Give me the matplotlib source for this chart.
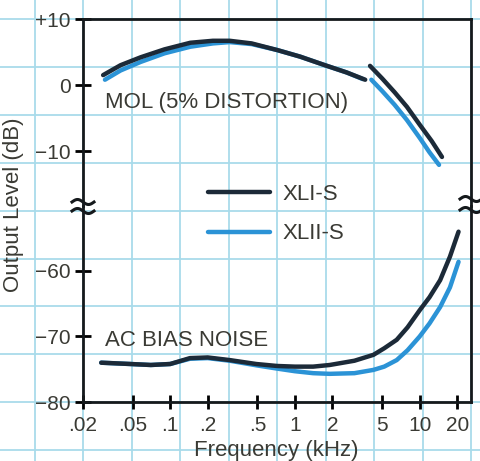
import matplotlib
matplotlib.use('Agg')
import matplotlib.pyplot as plt
from matplotlib.lines import Line2D
from matplotlib.ticker import NullLocator
import numpy as np

plt.rcParams['font.family'] = ['Liberation Sans', 'DejaVu Sans']

## DATA
freq_ticks = [0.02, 0.05, 0.1, 0.2, 0.5, 1, 2, 5, 10, 20]
freq_labels = ['.02', '.05', '.1', '.2', '.5', '1', '2', '5', '10', '20']
upper_ticks = [10, 0, -10]
upper_labels = ['+10', '0', '\u221210']
lower_ticks = [-60, -70, -80]
lower_labels = ['\u221260', '\u221270', '\u221280']

# MOL (5% distortion), low/mid band
mol_lo_f_xl1 = [0.029, 0.04, 0.058, 0.09, 0.145, 0.22, 0.3, 0.45, 0.72, 1.1, 1.74, 2.6, 3.66]
mol_lo_xl1 = [1.5, 3.0, 4.2, 5.4, 6.4, 6.7, 6.7, 6.3, 5.3, 4.3, 3.0, 1.9, 0.8]
mol_lo_f_xl2 = [0.030, 0.04, 0.058, 0.09, 0.145, 0.22, 0.3, 0.45, 0.72, 1.1, 1.74, 2.6, 3.5]
mol_lo_xl2 = [0.8, 2.2, 3.5, 4.8, 5.8, 6.3, 6.5, 6.2, 5.3, 4.3, 3.0, 1.9, 0.9]

# MOL, high band
mol_hi_f_xl1 = [4.0, 5.0, 6.3, 7.9, 10, 12.5, 15.1]
mol_hi_xl1 = [2.9, 1.0, -1.1, -3.3, -6.0, -8.5, -10.9]
mol_hi_f_xl2 = [4.1, 5.0, 6.3, 7.9, 10, 12, 14.3]
mol_hi_xl2 = [0.8, -0.9, -3.0, -5.3, -8.0, -10.2, -12.1]

# AC bias noise
noise_f = [0.028, 0.048, 0.07, 0.1, 0.144, 0.2, 0.3, 0.49, 0.72, 1.0, 1.4, 1.9, 3, 4.26,
           5.2, 6.55, 8, 10, 12, 14.6, 17.5, 20.5]
noise_xl1 = [-74.0, -74.2, -74.35, -74.2, -73.3, -73.2, -73.6, -74.2, -74.5, -74.6, -74.6,
             -74.35, -73.7, -72.8, -71.8, -70.5, -68.6, -66.0, -64.0, -61.4, -57.8, -54.0]
noise_xl2 = [-74.0, -74.2, -74.35, -74.2, -73.4, -73.3, -73.7, -74.4, -74.9, -75.3, -75.6,
             -75.7, -75.6, -75.1, -74.6, -73.6, -72.1, -70.0, -68.0, -65.5, -62.5, -58.6]

black = '#1c2a38'
blue = '#2b93d6'
paper = '#a9dbea'
ink = '#3a3a34'

fig = plt.figure(figsize=(4.8, 4.61), dpi=100)

# graph paper background (pixel coords)
bg = fig.add_axes([0, 0, 1, 1], zorder=-1)
bg.set_xlim(0, 480)
bg.set_ylim(461, 0)
bg.axis('off')
for gx in 83 + 48.5 * np.arange(-1, 9):
    bg.axvline(gx, color=paper, lw=1.3)
for gy in 19 + 47.9 * np.arange(-1, 10):
    bg.axhline(gy, color=paper, lw=1.3)

L, W = 83 / 480, 388 / 480
ax_top = fig.add_axes([L, 1 - 206 / 461, W, 187 / 461])
ax_bot = fig.add_axes([L, 1 - 402 / 461, W, 196 / 461])

for ax in (ax_top, ax_bot):
    ax.set_facecolor('none')
    ax.set_xscale('log')
    ax.set_xlim(0.02, 25.8)
    for s in ax.spines.values():
        s.set_linewidth(2)
        s.set_color('#15191c')
    ax.tick_params(axis='y', direction='inout', length=12, width=2, pad=3,
                   labelsize=15, labelcolor=ink, right=False)

ax_top.set_ylim(-18.33, 10)
ax_bot.set_ylim(-80, -50.08)
ax_top.spines['bottom'].set_visible(False)
ax_bot.spines['top'].set_visible(False)

ax_top.xaxis.set_major_locator(NullLocator())
ax_top.xaxis.set_minor_locator(NullLocator())
ax_top.set_yticks(upper_ticks, labels=upper_labels)
ax_bot.set_yticks(lower_ticks, labels=lower_labels)
ax_bot.set_xticks(freq_ticks, labels=freq_labels)
ax_bot.xaxis.set_minor_locator(NullLocator())
ax_bot.tick_params(axis='x', direction='inout', length=10, width=2, pad=5,
                   labelsize=15, labelcolor=ink)

style = dict(lw=3.2, solid_capstyle='round', solid_joinstyle='round')
l1, = ax_top.plot(mol_lo_f_xl1, mol_lo_xl1, color=black, zorder=3, **style)
l2, = ax_top.plot(mol_lo_f_xl2, mol_lo_xl2, color=blue, zorder=2, **style)
ax_top.plot(mol_hi_f_xl1, mol_hi_xl1, color=black, zorder=3, **style)
ax_top.plot(mol_hi_f_xl2, mol_hi_xl2, color=blue, zorder=2, **style)
ax_bot.plot(noise_f, noise_xl1, color=black, zorder=3, **style)
ax_bot.plot(noise_f, noise_xl2, color=blue, zorder=2, **style)

ax_top.text(0.03, -2.6, 'MOL (5% DISTORTION)', va='center', fontsize=16, color=ink)
ax_bot.text(0.03, -70.6, 'AC BIAS NOISE', va='center', fontsize=16, color=ink)

fig.legend(handles=[l1, l2], labels=['XLI-S', 'XLII-S'], loc='center left',
           bbox_to_anchor=(208 / 480, 1 - 214 / 461), frameon=False, fontsize=16,
           handlelength=2.8, handletextpad=0.55, labelspacing=0.85,
           borderpad=0, borderaxespad=0, labelcolor=ink)

fig.text(14 / 480, 1 - 205 / 461, 'Output Level (dB)', rotation=90, ha='center',
         va='center', fontsize=16, color=ink)
fig.text(276 / 480, 1 - 450 / 461, 'Frequency (kHz)', ha='center', va='center',
         fontsize=16, color=ink)

# axis break marks
t = np.linspace(0, 2 * np.pi, 40)
for cx, ys in ((83, (202, 211)), (471, (199, 210))):
    for y0 in ys:
        fig.add_artist(Line2D(cx + np.linspace(-11, 11, 40), y0 - 2.5 * np.sin(t),
                              transform=bg.transData, color='#15191c', lw=2.2))

fig.savefig('out.png', dpi=100)
